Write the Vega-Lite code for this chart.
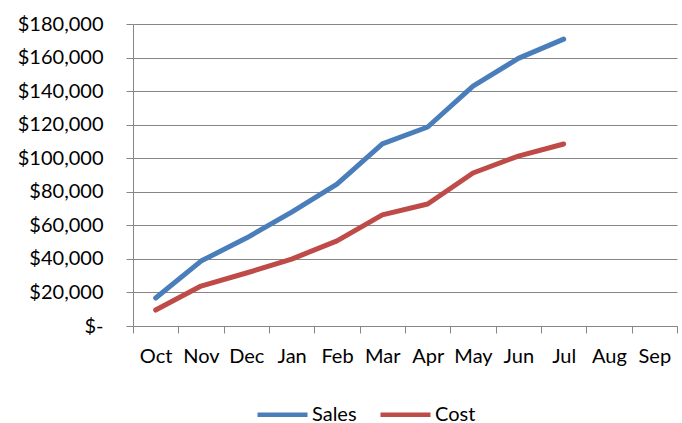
{
  "$schema": "https://vega.github.io/schema/vega-lite/v6.json",
  "autosize": {"type": "none"},
  "width": 544,
  "height": 302,
  "padding": {"left": 133, "top": 24, "right": 5, "bottom": 97},
  "background": "white",
  "config": {
    "font": "Lato",
    "view": {"stroke": null},
    "axis": {"labelFont": "Lato", "labelFontSize": 20, "labelColor": "#000000", "title": null}
  },
  "data": {
    "values": [
      {"month": "Oct", "series": "Sales", "value": 16700},
      {"month": "Nov", "series": "Sales", "value": 38700},
      {"month": "Dec", "series": "Sales", "value": 52400},
      {"month": "Jan", "series": "Sales", "value": 67900},
      {"month": "Feb", "series": "Sales", "value": 84600},
      {"month": "Mar", "series": "Sales", "value": 108500},
      {"month": "Apr", "series": "Sales", "value": 118600},
      {"month": "May", "series": "Sales", "value": 143000},
      {"month": "Jun", "series": "Sales", "value": 159500},
      {"month": "Jul", "series": "Sales", "value": 171000},
      {"month": "Oct", "series": "Cost", "value": 9500},
      {"month": "Nov", "series": "Cost", "value": 23800},
      {"month": "Dec", "series": "Cost", "value": 31600},
      {"month": "Jan", "series": "Cost", "value": 39900},
      {"month": "Feb", "series": "Cost", "value": 50700},
      {"month": "Mar", "series": "Cost", "value": 66200},
      {"month": "Apr", "series": "Cost", "value": 72700},
      {"month": "May", "series": "Cost", "value": 91200},
      {"month": "Jun", "series": "Cost", "value": 101300},
      {"month": "Jul", "series": "Cost", "value": 108500}
    ]
  },
  "mark": {"type": "line", "strokeWidth": 5, "strokeCap": "round", "strokeJoin": "round"},
  "encoding": {
    "x": {
      "field": "month",
      "type": "ordinal",
      "bandPosition": 0.5,
      "scale": {"type": "band", "domain": ["Oct","Nov","Dec","Jan","Feb","Mar","Apr","May","Jun","Jul","Aug","Sep"], "paddingInner": 0, "paddingOuter": 0},
      "axis": {
        "labelAngle": 0,
        "tickBand": "extent",
        "domainColor": "#868686",
        "tickColor": "#868686",
        "tickSize": 7,
        "labelPadding": 13,
        "grid": false
      }
    },
    "y": {
      "field": "value",
      "type": "quantitative",
      "scale": {"domain": [0, 180000], "nice": false},
      "axis": {
        "values": [0,20000,40000,60000,80000,100000,120000,140000,160000,180000],
        "labelExpr": "datum.value == 0 ? '$-' : format(datum.value, '$,')",
        "grid": true,
        "gridColor": "#868686",
        "domainColor": "#868686",
        "tickColor": "#868686",
        "tickSize": 7,
        "labelPadding": 23,
        "labelBaseline": "middle"
      }
    },
    "color": {
      "field": "series",
      "type": "nominal",
      "scale": {"domain": ["Sales", "Cost"], "range": ["#4A7EBB", "#BE4B48"]},
      "legend": {
        "title": null,
        "orient": "none",
        "legendX": 122,
        "legendY": 363,
        "direction": "horizontal",
        "columns": 2,
        "padding": 0,
        "symbolType": "stroke",
        "symbolSize": 2500,
        "symbolStrokeWidth": 4.5,
        "labelFont": "Lato",
        "labelFontSize": 20,
        "labelColor": "#000000",
        "labelOffset": 2,
        "columnPadding": 14
      }
    }
  }
}
